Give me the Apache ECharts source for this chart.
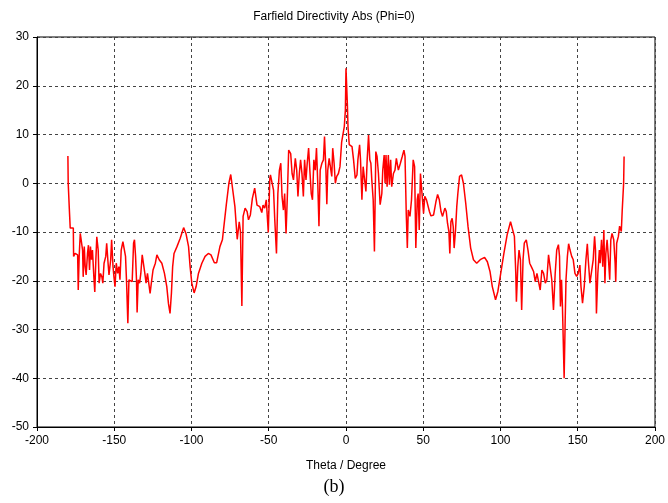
<!DOCTYPE html>
<html lang="en">
<head>
    <meta charset="UTF-8">
    <title>Farfield Directivity Abs (Phi=0)</title>
    <script src="https://cdn.jsdelivr.net/npm/echarts@6/dist/echarts.min.js"></script>
    <style>
        html, body { margin: 0; padding: 0; background: #ffffff; }
        #chart { width: 668px; height: 503px; }
    </style>
</head>
<body>
<div id="chart"></div>
<script>
    // theta (deg) and directivity (dBi)
    var theta = [
        -180, -179.8, -179.1, -178.5, -176.5, -176.3, -175.3, -174.4, -173.7, -173.3,
        -172.7, -172.0, -171.2, -170.5, -170.1, -169.4, -168.8, -168.2, -167.3, -166.7,
        -166.0, -165.4, -164.7, -164.1, -163.2, -162.6, -161.9, -161.3, -160.4, -159.8,
        -158.9, -158.0, -157.4, -156.6, -155.5, -154.9, -154.0, -153.4, -152.3, -151.7,
        -150.8, -150.2, -149.5, -148.7, -147.8, -147.0, -146.3, -145.5, -144.4, -143.5,
        -142.7, -142.0, -141.2, -140.5, -139.5, -138.4, -137.5, -136.9, -136.2, -135.6,
        -135.2, -134.5, -133.6, -132.8, -131.9, -130.9, -130.2, -129.4, -128.5, -127.7,
        -126.8, -126.0, -124.9, -123.4, -122.4, -120.9, -119.2, -117.5, -116.0, -114.9,
        -113.9, -113.0, -112.2, -111.3, -109.4, -107.3, -105.1, -103.6, -101.9, -100.9,
        -99.8, -98.3, -97.0, -95.5, -93.3, -91.2, -89.1, -87.4, -85.2, -83.7,
        -81.6, -80.0, -77.5, -75.8, -74.6, -73.6, -71.9, -70.4, -69.1, -68.3,
        -67.4, -66.6, -65.3, -64.0, -63.1, -61.9, -60.6, -59.1, -57.6, -55.8,
        -54.5, -53.7, -52.6, -51.6, -50.3, -49.3, -48.9, -47.8, -46.9, -46.1,
        -45.0, -44.1, -43.1, -42.2, -41.4, -40.5, -39.7, -38.8, -37.9, -37.1,
        -35.8, -34.9, -34.0, -32.8, -31.9, -31.1, -30.2, -29.4, -28.5, -27.6,
        -26.8, -25.9, -25.1, -24.2, -23.4, -22.5, -21.7, -20.8, -19.9, -19.1,
        -18.2, -17.5, -16.7, -15.6, -14.6, -13.9, -13.0, -12.4, -11.8, -10.9,
        -10.1, -9.2, -8.6, -7.7, -6.9, -6.0, -4.9, -3.9, -2.8, -1.7,
        -1.1, -0.4, 0, 0.9, 1.3, 2.1, 3.9, 4.9, 6.0, 7.1,
        7.7, 8.8, 9.4, 10.3, 11.1, 12.0, 12.9, 13.7, 14.6, 15.4,
        16.1, 16.7, 17.6, 18.4, 19.3, 20.1, 21.0, 22.1, 23.2, 23.8,
        24.7, 25.3, 25.9, 26.6, 27.4, 28.1, 28.9, 29.6, 30.7, 31.7,
        32.6, 33.9, 35.2, 36.4, 37.5, 38.2, 39.0, 39.7, 40.3, 41.4,
        42.4, 43.5, 44.4, 45.2, 46.1, 46.7, 47.4, 48.2, 49.3, 50.2,
        51.0, 52.1, 54.0, 55.0, 56.7, 58.2, 59.3, 60.4, 61.5, 62.5,
        64.0, 64.9, 65.7, 66.6, 67.2, 67.9, 68.7, 69.4, 70.0, 70.9,
        71.7, 72.4, 73.5, 74.8, 76.0, 77.5, 79.0, 80.7, 82.5, 84.6,
        87.2, 89.7, 91.5, 93.2, 94.7, 96.8, 98.3, 100.0, 102.2, 104.3,
        106.5, 107.7, 109.0, 109.9, 110.3, 111.2, 112.0, 112.9, 113.7, 114.6,
        115.4, 116.7, 117.8, 118.9, 120.4, 121.4, 122.5, 123.6, 124.7, 125.7,
        126.8, 127.9, 129.0, 130.0, 131.1, 132.2, 133.2, 134.3, 135.4, 136.4,
        137.5, 138.2, 138.8, 139.5, 140.1, 141.2, 141.8, 142.4, 143.3, 144.1,
        145.0, 146.1, 147.1, 148.2, 149.3, 150.3, 151.4, 152.1, 153.1, 154.2,
        155.3, 156.2, 156.8, 157.9, 159.0, 160.0, 160.9, 161.5, 162.1, 163.0,
        164.0, 164.5, 165.4, 166.2, 166.9, 167.6, 168.2, 169.0, 169.9, 170.7,
        171.4, 172.2, 173.3, 174.2, 174.6, 175.2, 176.3, 177.1, 178.2, 178.8,
        179.7, 180.0
    ];
    var directivity = [
        5.6, 0, -5.1, -9.2, -9.2, -15.0, -14.4, -14.0, -14.7, -21.9,
        -15.0, -10.3, -9.9, -13.7, -19.2, -13.0, -17.1, -18.8, -14.4, -12.7,
        -17.8, -13.0, -15.7, -13.7, -19.2, -22.3, -15.7, -11.0, -13.7, -20.5,
        -18.5, -19.2, -20.5, -16.4, -15.0, -12.3, -16.4, -18.8, -15.7, -11.6,
        -17.1, -19.2, -21.2, -16.4, -18.5, -17.1, -19.8, -13.7, -12.0, -12.3,
        -15.0, -20.5, -28.7, -19.8, -20.2, -20.2, -12.3, -11.6, -15.0, -19.8,
        -26.5, -19.8, -20.5, -18.5, -14.7, -14.7, -18.5, -20.5, -18.5, -18.5,
        -22.6, -20.5, -17.8, -16.4, -14.7, -15.7, -16.4, -18.5, -21.2, -24.7,
        -26.7, -22.6, -17.1, -14.4, -13.0, -11.3, -9.1, -10.3, -13.0, -17.1,
        -20.5, -22.5, -21.2, -18.5, -16.4, -15.0, -14.4, -14.7, -16.3, -16.3,
        -13.0, -11.6, -4.5, 0, 1.8, 1.5, -4.8, -11.5, -7.9, -9.9,
        -25.2, -6.8, -5.1, -5.8, -7.5, -6.5, -3.1, -1.0, -4.5, -4.8,
        -6.0, -4.5, -5.1, -3.4, -10.1, 1.0, 1.7, 2.0, -1.4, -7.5,
        -14.4, -2.1, 2.7, 4.1, -2.7, -5.5, -2.1, -10.3, -2.1, 6.8,
        6.1, 2.0, 0.7, 5.1, 2.7, -2.7, 2.0, 4.8, 2.0, -2.7,
        4.8, 0.7, 4.1, 7.2, 2.7, -2.1, -3.4, 4.8, 2.7, 7.2,
        -0.7, -8.8, 2.7, 4.1, 4.8, 9.6, 2.7, -4.3, 2.7, 5.1,
        4.8, 1.4, 7.2, 4.1, 0, 1.4, 2.0, 3.4, 8.5, 8.5,
        11.6, 15.0, 23.6, 16.1, 11.6, 7.9, 7.5, 4.8, 1.0, 1.7,
        4.8, 7.9, 4.8, -3.4, 3.4, 3.4, -1.7, 4.8, 9.9, 4.8,
        4.1, 0.7, -3.4, -14.0, 6.5, 5.5, 2.0, -4.4, -2.1, 2.7,
        5.8, 0, 5.8, -0.7, 5.8, -0.3, 4.8, -0.7, 2.0, 2.7,
        5.1, 2.7, 4.1, 5.5, 6.8, 5.5, -6.2, -13.3, -5.5, -6.8,
        -3.4, 4.8, 3.4, -13.3, -3.4, -2.1, -9.6, 2.0, 1.7, -6.2,
        -2.7, -3.4, -5.8, -6.7, -6.5, -3.8, -2.3, -3.4, -5.8, -6.8,
        -5.1, -5.8, -8.2, -9.9, -14.4, -7.9, -7.2, -8.9, -13.3, -9.6,
        -4.8, -2.1, 1.4, 1.7, 0, -4.1, -8.9, -13.3, -15.7, -16.4,
        -15.6, -15.2, -16.1, -18.1, -21.2, -23.9, -22.2, -18.8, -14.4, -10.6,
        -7.9, -8.1, -10.9, -18.5, -24.3, -17.1, -13.7, -15.7, -26.0, -15.7,
        -12.3, -11.6, -13.7, -16.4, -17.4, -18.1, -20.2, -18.5, -18.8, -21.9,
        -17.8, -18.5, -20.5, -19.8, -14.7, -15.0, -19.8, -26.0, -18.5, -13.7,
        -12.6, -15.0, -25.3, -19.8, -25.3, -40.0, -29.4, -19.8, -15.0, -12.4,
        -13.7, -15.0, -15.7, -18.5, -19.1, -18.5, -16.8, -21.2, -24.6, -21.2,
        -15.7, -12.4, -15.7, -20.5, -20.5, -15.7, -10.9, -13.7, -26.7, -18.5,
        -13.7, -16.4, -11.6, -17.1, -9.6, -20.5, -14.4, -11.6, -15.7, -19.8,
        -11.6, -10.3, -11.6, -16.4, -20.2, -12.3, -10.9, -8.8, -9.9, -5.5,
        0, 5.5
    ];

    var xTicks = [-200, 200, 50];
    var yTicks = [-50, 30, 10];

    var seriesData = theta.map(function (t, i) {
        return [t, directivity[i]];
    });

    var myChart = echarts.init(document.getElementById('chart'));
    var labelFont = 'Liberation Sans';
    option = {
        animation: false,
        backgroundColor: '#ffffff',
        title: {
            text: 'Farfield Directivity Abs (Phi=0)',
            left: 'center',
            top: 6,
            textStyle: {
                fontFamily: labelFont,
                fontSize: 12,
                fontWeight: 'normal',
                color: '#000'
            }
        },
        grid: {
            left: 37,
            right: 10,
            top: 37,
            bottom: 76,
            show: true,
            borderColor: '#000',
            borderWidth: 1
        },
        xAxis: {
            type: 'value',
            min: xTicks[0],
            max: xTicks[1],
            interval: xTicks[2],
            name: 'Theta / Degree',
            nameLocation: 'middle',
            nameGap: 33,
            nameTextStyle: { fontFamily: labelFont, fontSize: 12, color: '#000' },
            axisLine: { onZero: false, lineStyle: { color: '#000', width: 1 } },
            axisTick: { show: true, length: 4, lineStyle: { color: '#000' } },
            axisLabel: { margin: 8, fontFamily: labelFont, fontSize: 12, color: '#000' },
            splitLine: { show: true, lineStyle: { color: '#444', type: [3, 3], width: 1 } }
        },
        yAxis: {
            type: 'value',
            min: yTicks[0],
            max: yTicks[1],
            interval: yTicks[2],
            axisLine: { show: true, onZero: false, lineStyle: { color: '#000', width: 1 } },
            axisTick: { show: true, length: 4, lineStyle: { color: '#000' } },
            axisLabel: { margin: 8, fontFamily: labelFont, fontSize: 12, color: '#000' },
            splitLine: { show: true, lineStyle: { color: '#444', type: [3, 3], width: 1 } }
        },
        graphic: [{
            type: 'text',
            left: 'center',
            top: 478,
            style: {
                text: '(b)',
                fontFamily: 'Liberation Serif',
                fontSize: 18,
                fill: '#000'
            }
        }],
        series: [{
            name: 'Farfield Directivity Abs',
            type: 'line',
            data: seriesData,
            showSymbol: false,
            lineStyle: { color: '#ff0000', width: 1.5 },
            itemStyle: { color: '#ff0000' }
        }]
    };
    myChart.setOption(option);
</script>
</body>
</html>
